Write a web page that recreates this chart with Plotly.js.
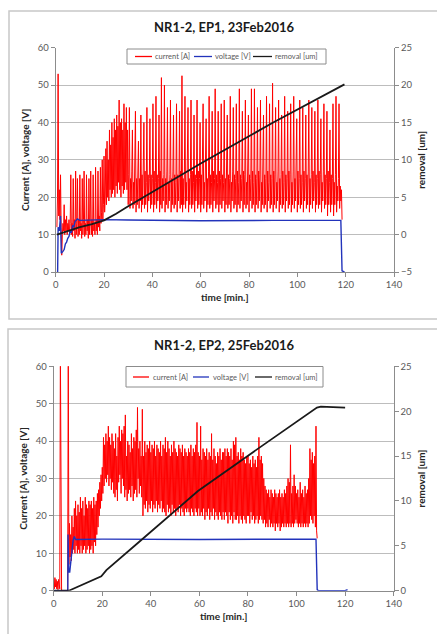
<!DOCTYPE html>
<html><head><meta charset="utf-8">
<script src="https://cdn.plot.ly/plotly-3.0.1.min.js"></script>
<style>html,body{margin:0;padding:0;background:#fff;}#chart{width:437px;height:634px;}</style>
</head><body><div id="chart"></div>
<script>
// ---------- EP1, 23 Feb 2016 : current sampled every 0.25 min from t = 0.5 min ----------
const currentEP1Start = 0.5, currentEP1Step = 0.25;
const currentEP1 = [
12,20,53,15,22,14,26,12,4.5,10,13,11,18,10,14,11,15,10,
13,11,14,10,13,26,10,13,9.5,25,11,14,9,27,10,13,25,9.5,14,10,
26,11,13,9,25,10,14,27,9.5,13,10,26,11,14,9,25,10,13,27,10,
14,9.5,26,11,13,10,28,11,14,10,27,12,15,11,28,13,16,30,14,18,
31,16,20,33,18,35,20,30,19,38,22,34,20,40,21,36,22,41,20,38,
23,42,21,39,24,46,22,40,20,41,23,38,21,45,22,40,24,44,22,38,
18,26,44,17,25,19,27,38,17,24,18,26,43,16,25,18,27,35,17,25,
19,42,16,26,18,25,40,17,27,18,24,44,16,26,19,25,41,17,26,18,
25,45,16,27,18,24,47,17,26,19,25,42,16,27,18,52,17,25,19,26,
50,16,25,18,27,44,17,24,19,26,46,16,25,18,27,42,17,26,18,24,
45,16,26,19,25,43,17,27,18,52.5,16,25,18,26,47,17,24,19,27,44,
16,25,18,26,46,17,27,18,24,42,16,26,19,25,46,17,27,18,25,40,
16,26,18,27,45,17,24,19,26,41,16,25,18,27,47,17,26,18,24,43,
16,27,19,25,49,17,26,18,24,43,16,27,18,25,45,17,26,19,24,46,
16,25,18,27,42,17,26,18,25,47,16,24,19,27,44,17,26,18,25,45,
16,27,18,24,49,17,26,19,25,43,16,27,18,26,46,17,24,18,27,42,
16,26,19,25,49,17,27,18,24,49,16,26,18,25,44,17,27,19,26,46,
16,24,18,27,42,17,26,18,25,47,16,27,19,24,45,17,26,18,25,50.5,
16,27,18,26,44,17,24,19,27,46,16,25,18,26,42,17,27,18,24,47,
16,26,19,25,43,17,27,18,26,45,16,24,18,27,47,17,25,19,26,41,
16,27,18,25,46,17,26,18,24,44,16,27,19,25,42,17,26,18,27,46,
16,25,18,26,44,17,27,19,24,43,16,26,18,25,46,17,27,18,26,41,
16,24,19,27,45,17,26,18,25,43,15,27,18,24,38,16,26,18,25,45,
15,24,18,26,47,16,23,19,25,45,17,23,19,22,14];
const voltTimeEP1 = [0.5,0.8,1,1.5,2,2.3,3,3.5,4,4.5,5,5.5,6,6.5,7,7.5,8,9,10,20,30,60,90,118,118.5,119.5];
const voltageEP1  = [0,0,12,11,15,5,5.5,6,7.5,8,9,9.5,11,10.5,12.5,12,13.5,14.2,13.8,14,13.9,13.7,13.8,13.8,0.3,0];
const remTimeEP1 = [0.5,5,10,15,20,25,30,60,90,119.5];
const removalEP1 = [0,0.5,1.0,1.4,1.9,2.8,3.8,9.5,15.0,20.1];

// ---------- EP2, 25 Feb 2016 : current sampled every 0.25 min from t = 0 ----------
const currentEP2Start = 0, currentEP2Step = 0.25;
const currentEP2 = [
3,0.5,3.5,1,3,0.5,2.5,0.3,3,1,0.5,65,0,0,0,0,0,0,0,0,
0,0,0,0,65,7,18,9,15,8,20,10,17,11,22,10,24,12,20,10,
23,11,21,10,25,12,22,10,24,11,20,12,25,10,23,11,22,12,24,10,
23,11,24,12,22,10,25,13,23,12,24,15,26,17,27,20,29,22,31,24,
33,26,41,28,39,30,42,29,40,31,44,28,41,30,39,27,42,29,40,26,
38,25,42,27,36,24,41,29,44,31,40,26,43,30,42,28,44,25,47,27,
36,24,40,26,39,27,37,25,42,28,38,24,41,26,40,27,43,25,49,30,
38,26,40,28,36,25,48.5,20,36,23,40,22,37,24,39,21,38,23,40,22,
37,24,39,21,38,23,40,22,36,24,39,21,38,23,37,22,40,24,36,21,
39,22,38,21,41,20,37,23,40,21,38,22,36,20,39,23,37,21,40,22,
38,20,37,22,36,21,39,23,38,20,37,22,39,21,36,20,38,22,37,21,
36,22,38,21,37,20,39,22,36,21,38,20,37,22,39,21,45,20,37,22,
36,20,44,21,35,20,38,22,37,19,36,21,38,20,35,22,37,19,36,21,
42,20,35,22,38,19,36,21,34,20,37,19,36,21,38,20,35,19,37,21,
37,19,38,21,36,20,38,18,37,21,36,19,38,20,35,18,40,21,39,19,
41,19,36,20,37,18,35,20,38,19,36,18,37,20,35,19,34,18,36,20,
36,20,34,18,35,21,33,19,36,20,34,18,35,19,33,20,36,18,41,19,
35,20,36,19,34,18,30,19,28,17,27,18,26,17,27,19,25,17,27,18,
26,17,25,18,27,16,26,18,25,17,26,18,27,16,25,17,26,18,25,17,
27,18,26,17,28,18,30,17,29,18,39,17,26,18,28,17,31,18,28,19,
26,18,27,17,25,18,29,17,26,18,27,17,25,18,28,17,26,18,27,17,
30,18,38,20,35,19,37,18,34,20,36,17,44,16,14];
const voltTimeEP2 = [0,5.8,5.9,6.2,6.6,7,7.5,8,8.5,9,20,60,108,108.5,109,120,121];
const voltageEP2  = [0,0,15,5,5,8,10,13.5,14.5,13.7,13.8,13.7,13.8,0.3,0,0,0.3];
const remTimeEP2 = [0,6.2,19.6,21.7,35,59.4,84,108.4,110,120];
const removalEP2 = [0,0,1.6,2.3,5.4,11.1,15.8,20.4,20.5,20.4];

const chartTitles = ["NR1-2, EP1, 23Feb2016", "NR1-2, EP2, 25Feb2016"];
const seriesNames = ["current [A]", "voltage [V]", "removal [um]"];
const axisTitles = {x: "time [min.]", left: "Current [A], voltage [V]", right: "removal [um]"};

// ---------- layout helpers ----------
const W = 437, H = 634;
const px = v => v / W, py = v => 1 - v / H;
const COLORS = ['#ff0000', '#2233bb', '#1a1a1a'];
const WIDTHS = [1, 1.4, 1.8];
const FONT = 'Lato, "Liberation Sans", sans-serif';
const tickFont = {family: FONT, size: 9.5, color: '#595959'};
const titleFont = {family: FONT, size: 10, color: '#262626', weight: 700};

function line(extra, i, xa, ya) {
  return Object.assign({name: seriesNames[i], type: 'scatter', mode: 'lines',
    line: {color: COLORS[i], width: WIDTHS[i]}, xaxis: xa, yaxis: ya, showlegend: false, hoverinfo: 'skip'}, extra);
}
const data = [
  line({x0: currentEP1Start, dx: currentEP1Step, y: currentEP1}, 0, 'x', 'y'),
  line({x: voltTimeEP1, y: voltageEP1}, 1, 'x', 'y'),
  line({x: remTimeEP1, y: removalEP1}, 2, 'x', 'y2'),
  line({x0: currentEP2Start, dx: currentEP2Step, y: currentEP2}, 0, 'x2', 'y3'),
  line({x: voltTimeEP2, y: voltageEP2}, 1, 'x2', 'y3'),
  line({x: remTimeEP2, y: removalEP2}, 2, 'x2', 'y4')
];

function xAxis(dom, anchor) {
  return {domain: dom, anchor: anchor, range: [0, 140], dtick: 20, tick0: 0,
    showline: true, linecolor: '#8c8c8c', linewidth: 1, ticks: 'outside', ticklen: 4, tickcolor: '#8c8c8c',
    showgrid: false, zeroline: false, tickfont: tickFont,
    title: {text: axisTitles.x, font: titleFont, standoff: 4}};
}
function yLeft(dom, anchor) {
  return {domain: dom, anchor: anchor, range: [0, 60], dtick: 10, tick0: 0,
    showline: true, linecolor: '#8c8c8c', linewidth: 1, ticks: 'outside', ticklen: 4, tickcolor: '#8c8c8c',
    showgrid: true, gridcolor: '#bdbdbd', gridwidth: 1, zeroline: false, tickfont: tickFont,
    title: {text: axisTitles.left, font: titleFont, standoff: 6}};
}
function yRight(over, anchor, rng) {
  return {overlaying: over, anchor: anchor, side: 'right', range: rng, dtick: 5, tick0: 0,
    showline: true, linecolor: '#8c8c8c', linewidth: 1, ticks: 'outside', ticklen: 4, tickcolor: '#8c8c8c',
    showgrid: false, zeroline: false, tickfont: tickFont,
    title: {text: axisTitles.right, font: titleFont, standoff: 6}};
}

// hand-built legend boxes (Excel style: short line samples, tiny text)
const shapes = [
  {type: 'rect', xref: 'paper', yref: 'paper', x0: px(9), x1: 1.02, y0: py(319), y1: py(11),
   line: {color: '#c8c8c8', width: 1.5}, layer: 'below'},
  {type: 'rect', xref: 'paper', yref: 'paper', x0: px(8), x1: 1.02, y0: -0.02, y1: py(329),
   line: {color: '#c8c8c8', width: 1.5}, layer: 'below'}
];
const annotations = [
  {text: chartTitles[0], xref: 'paper', yref: 'paper', x: px(224), y: py(27), xanchor: 'center', yanchor: 'middle',
   showarrow: false, font: {family: FONT, size: 13, color: '#1a1a1a', weight: 700}},
  {text: chartTitles[1], xref: 'paper', yref: 'paper', x: px(224), y: py(345), xanchor: 'center', yanchor: 'middle',
   showarrow: false, font: {family: FONT, size: 13, color: '#1a1a1a', weight: 700}}
];
function addLegend(box, lineY, lineXs, textXs) {
  shapes.push({type: 'rect', xref: 'paper', yref: 'paper', x0: px(box[0]), x1: px(box[1]), y0: py(box[3]), y1: py(box[2]),
    line: {color: '#8c8c8c', width: 1}, fillcolor: '#ffffff', layer: 'above'});
  seriesNames.forEach((nm, i) => {
    shapes.push({type: 'line', xref: 'paper', yref: 'paper', x0: px(lineXs[i][0]), x1: px(lineXs[i][1]),
      y0: py(lineY), y1: py(lineY), line: {color: COLORS[i], width: 1.3}, layer: 'above'});
    annotations.push({text: nm, xref: 'paper', yref: 'paper', x: px(textXs[i]), y: py(lineY), xanchor: 'left', yanchor: 'middle',
      showarrow: false, font: {family: FONT, size: 7.5, color: '#595959'}});
  });
}
addLegend([127, 326, 49, 64], 56.5, [[135, 152], [194, 212], [253, 272]], [153, 213, 273]);
addLegend([126, 323, 366.5, 387], 377, [[133, 149], [193, 209], [255, 272]], [151, 211, 273]);

const layout = {
  width: W, height: H, margin: {l: 0, r: 0, t: 0, b: 0},
  paper_bgcolor: '#ffffff', plot_bgcolor: 'rgba(0,0,0,0)',
  font: {family: FONT, color: '#595959'}, showlegend: false,
  xaxis: xAxis([px(55.7), px(394)], 'y'),
  yaxis: yLeft([py(272), py(47.7)], 'x'),
  yaxis2: yRight('y', 'x', [-5, 25]),
  xaxis2: xAxis([px(53.7), px(393.7)], 'y3'),
  yaxis3: yLeft([py(590.7), py(366.3)], 'x2'),
  yaxis4: yRight('y3', 'x2', [0, 25]),
  annotations: annotations,
  shapes: shapes
};

Plotly.newPlot('chart', data, layout, {displayModeBar: false, staticPlot: true});
</script>
</body></html>
